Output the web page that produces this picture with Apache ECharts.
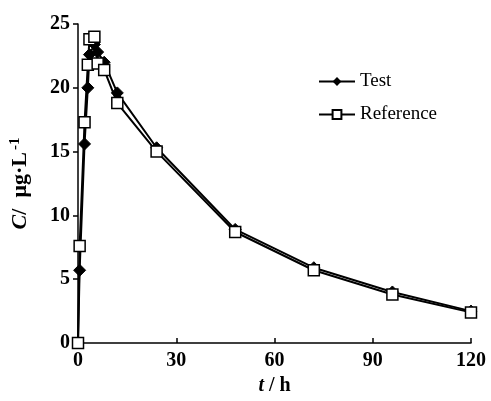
<!DOCTYPE html>
<html>
<head>
<meta charset="utf-8">
<script src="https://cdn.jsdelivr.net/npm/echarts@6/dist/echarts.min.js"></script>
<style>
  html, body { margin: 0; padding: 0; background: #fff; }
  #chart { width: 491px; height: 401px; }
</style>
</head>
<body>
<div id="chart"></div>
<script>
// sampling times (h) and concentrations (ug/L)
var times = [0, 0.5, 2, 3, 3.5, 5, 6, 8, 12, 24, 48, 72, 96, 120];
var testConc = [0, 5.7, 15.6, 20.0, 22.6, 23.4, 22.8, 22.0, 19.6, 15.3, 8.9, 5.9, 4.0, 2.5];
var refConc = [0, 7.6, 17.3, 21.8, 23.8, 24.0, 21.9, 21.4, 18.8, 15.0, 8.7, 5.7, 3.8, 2.4];
var xTicks = [0, 30, 60, 90, 120];
var yTicks = [0, 5, 10, 15, 20, 25];

function pairs(vals) {
    return times.map(function (t, i) { return [t, vals[i]]; });
}

var serif = '"Liberation Serif", "Times New Roman", serif';
var chart = echarts.init(document.getElementById('chart'));
chart.setOption({
    animation: false,
    grid: { left: 78, right: 20, top: 24, bottom: 58 },
    legend: {
        orient: 'vertical',
        left: 313,
        top: 67,
        itemWidth: 36,
        itemHeight: 11,
        itemGap: 14,
        textStyle: { fontFamily: serif, fontSize: 19, color: '#000' },
        data: ['Test', 'Reference']
    },
    xAxis: {
        type: 'value',
        min: 0, max: 120, interval: 30,
        name: '{i|t} / h',
        nameLocation: 'middle',
        nameGap: 32,
        nameTextStyle: {
            fontFamily: serif, fontSize: 20, fontWeight: 'bold', color: '#000',
            rich: { i: { fontFamily: serif, fontSize: 20, fontWeight: 'bold', fontStyle: 'italic', color: '#000' } }
        },
        axisLine: { lineStyle: { color: '#000', width: 1.5 } },
        axisTick: { inside: true, length: 5, lineStyle: { color: '#000', width: 1.5 } },
        axisLabel: { fontFamily: serif, fontSize: 20, fontWeight: 'bold', color: '#000', margin: 8 },
        splitLine: { show: false }
    },
    yAxis: {
        type: 'value',
        min: 0, max: 25, interval: 5,
        name: '{i|C}/  μg·L{s|-1}',
        nameLocation: 'middle',
        nameGap: 46,
        nameRotate: 90,
        nameTextStyle: {
            fontFamily: serif, fontSize: 22, fontWeight: 'bold', color: '#000',
            rich: {
                i: { fontFamily: serif, fontSize: 22, fontWeight: 'bold', fontStyle: 'italic', color: '#000' },
                s: { fontFamily: serif, fontSize: 15, fontWeight: 'bold', color: '#000', verticalAlign: 'top', padding: [0, 0, 9, 2] }
            }
        },
        axisLine: { show: true, lineStyle: { color: '#000', width: 1.5 } },
        axisTick: { show: true, length: 5, lineStyle: { color: '#000', width: 1.5 } },
        axisLabel: { fontFamily: serif, fontSize: 20, fontWeight: 'bold', color: '#000', margin: 8 },
        splitLine: { show: false }
    },
    series: [
        {
            name: 'Test',
            type: 'line',
            data: pairs(testConc),
            symbol: 'diamond',
            symbolSize: 12,
            itemStyle: { color: '#000', borderColor: '#000' },
            lineStyle: { color: '#000', width: 2 },
            z: 2
        },
        {
            name: 'Reference',
            type: 'line',
            data: pairs(refConc),
            symbol: 'rect',
            symbolSize: 11,
            itemStyle: { color: '#fff', borderColor: '#000', borderWidth: 1.5 },
            lineStyle: { color: '#000', width: 2 },
            z: 3
        }
    ]
});
</script>
</body>
</html>
